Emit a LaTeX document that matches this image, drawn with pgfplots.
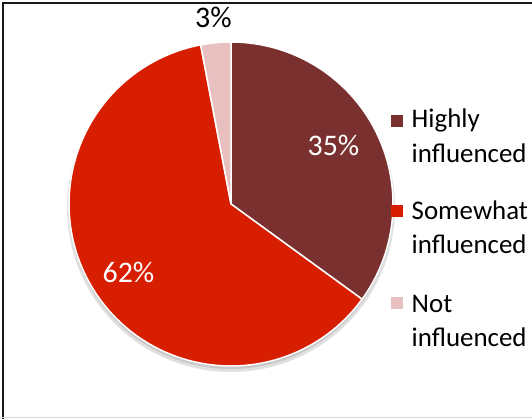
\documentclass[border=0pt]{standalone}
\usepackage{pgfplots}
\pgfplotsset{compat=1.18}
\usepackage{fontspec}
\setmainfont{Carlito}
\definecolor{hi}{RGB}{122,48,46}
\definecolor{so}{RGB}{216,30,0}
\definecolor{no}{RGB}{232,192,192}
\begin{document}
\begin{tikzpicture}
\def\va{35}\def\vb{62}\def\vc{3}
\pgfmathsetmacro{\aA}{90}
\pgfmathsetmacro{\aB}{90-3.6*\va}
\pgfmathsetmacro{\aC}{\aB-3.6*\vb}
\pgfmathsetmacro{\aD}{\aC-3.6*\vc}
\begin{axis}[width=532bp,height=419bp,scale only axis,hide axis,
  xmin=0,xmax=532,ymin=0,ymax=419,clip=false]
% soft shadow
\addplot[draw=none, fill=black!12, domain=0:360, samples=120] ({231+164*cos(x)},{211+164*sin(x)}) -- cycle;
\addplot[draw=none, fill=black!22, domain=0:360, samples=120] ({231+162*cos(x)},{212+162*sin(x)}) -- cycle;
% wedges
\addplot[fill=hi, draw=white, line width=1.5bp, line join=round, domain=\aB:\aA, samples=80] ({231+162*cos(x)},{215+162*sin(x)}) -- (axis cs:231,215) -- cycle;
\addplot[fill=so, draw=white, line width=1.5bp, line join=round, domain=\aC:\aB, samples=140] ({231+162*cos(x)},{215+162*sin(x)}) -- (axis cs:231,215) -- cycle;
\addplot[fill=no, draw=white, line width=1.5bp, line join=round, domain=\aD:\aC, samples=10] ({231+162*cos(x)},{215+162*sin(x)}) -- (axis cs:231,215) -- cycle;
% data labels
\begin{scope}[every node/.style={inner sep=0pt, font=\fontsize{30}{36}\selectfont}]
\node[white] at (axis cs:333.5,274) {35\%};
\node[white] at (axis cs:128.5,147) {62\%};
\node[black] at (axis cs:213.5,401.5) {3\%};
\end{scope}
% legend markers
\addplot[only marks, mark=square*, mark size=5.5bp, mark options={fill=hi,draw=hi}] coordinates {(397,298)};
\addplot[only marks, mark=square*, mark size=5.5bp, mark options={fill=so,draw=so}] coordinates {(397,208)};
\addplot[only marks, mark=square*, mark size=5.5bp, mark options={fill=no,draw=no}] coordinates {(397,116)};
% legend text
\begin{scope}[every node/.style={anchor=base west, inner sep=0pt, font=\fontsize{27}{32}\selectfont}]
\node at (axis cs:411.5,291) {Highly};
\node at (axis cs:411.5,256) {influenced};
\node at (axis cs:411.5,199) {Somewhat};
\node at (axis cs:411.5,165) {influenced};
\node at (axis cs:411.5,106) {Not};
\node at (axis cs:411.5,72) {influenced};
\end{scope}
% frame
\draw[black!90, line width=2bp] (axis cs:2.5,0) -- (axis cs:2.5,415.5) -- (axis cs:532,415.5);
\draw[black!15, line width=1bp] (axis cs:0,1.5) -- (axis cs:532,1.5);
\end{axis}
\pgfresetboundingbox
\path (current axis.south west) rectangle (current axis.north east);
\end{tikzpicture}
\end{document}
